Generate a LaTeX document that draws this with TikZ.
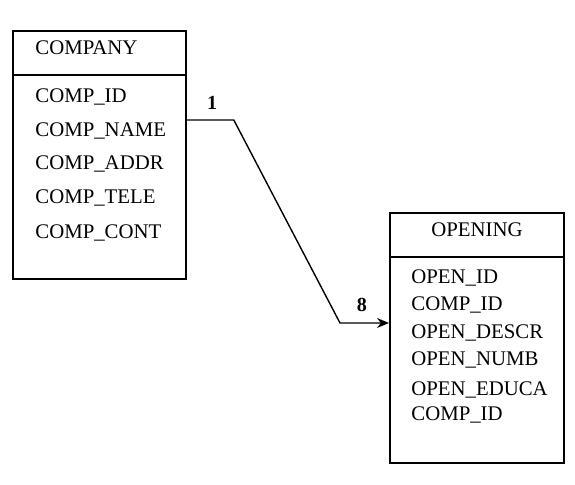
\documentclass[tikz,border=0pt]{standalone}
\usepackage{fontspec}
\setmainfont{Liberation Serif}
\usetikzlibrary{arrows.meta}
\tikzset{
    table/.style={draw, line width=0.9pt, anchor=north west},
    attr/.style={anchor=west, inner sep=0pt},
    card/.style={font=\bfseries, inner sep=0pt}
}
\begin{document}
\begin{tikzpicture}[x=0.5pt, y=-0.5pt, font=\fontsize{10.4}{12}\selectfont]
    \useasboundingbox (0,0) rectangle (575,485);
    % company table
    \node[table, minimum width=86.5pt, minimum height=124pt] (company) at (12,30) {};
    \draw[line width=0.9pt] (company.north west) ++(0,45) -- ++(173,0);
    \node[attr] (comptitle) at (35,48) {COMPANY};
    \foreach \i/\y/\ytext in {1/97/COMP\_ID, 2/131/COMP\_NAME, 3/164/COMP\_ADDR, 4/198/COMP\_TELE, 5/233/COMP\_CONT}
    \node[attr] (comp\i) at (35,\y) {\ytext};
    % opening table
    \node[table, minimum width=87pt, minimum height=125pt] (opening) at (389,212) {};
    \draw[line width=0.9pt] (opening.north west) ++(0,45) -- ++(174,0);
    \node (opentitle) at (477,230) {OPENING};
    \foreach \i/\y/\ytext in {1/278/OPEN\_ID, 2/305/COMP\_ID, 3/333/OPEN\_DESCR, 4/360/OPEN\_NUMB, 5/390/OPEN\_EDUCA, 6/415/COMP\_ID}
    \node[attr] (open\i) at (411,\y) {\ytext};
    % relationship
    \coordinate (c1) at ([yshift=-45pt]company.north east);
    \coordinate (c8) at ([yshift=-55.5pt]opening.north west);
    \draw[-{Stealth[length=6pt, width=5pt]}, line width=0.7pt] (c1) -- ++(47,0) -- (340,323) -- (c8);
    \node[card] (one) at (212,103) {1};
    \node[card] (eight) at (362,305) {8};
\end{tikzpicture}
\end{document}
